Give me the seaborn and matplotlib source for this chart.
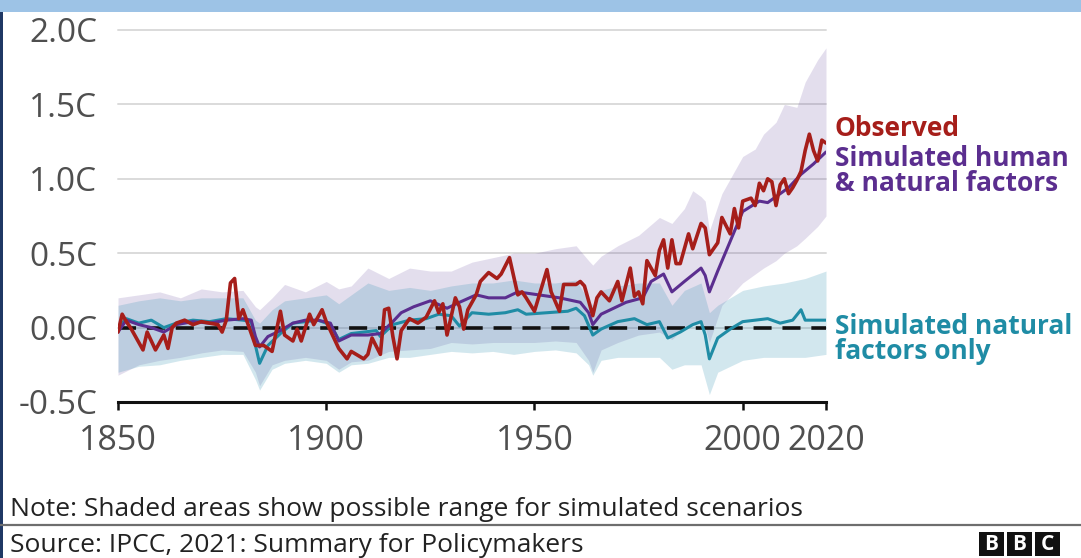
import matplotlib
matplotlib.use("Agg")
import matplotlib.pyplot as plt
import seaborn as sns
import pandas as pd
from matplotlib.patches import Rectangle
from matplotlib.lines import Line2D

# ---------------- data ----------------
obs_years = [1850, 1851, 1852, 1853, 1854, 1856, 1857, 1859, 1861, 1862, 1863, 1864, 1866, 1868,
             1870, 1872, 1874, 1875, 1876, 1877, 1878, 1879, 1880, 1881, 1883, 1885, 1887, 1889,
             1890, 1892, 1893, 1894, 1896, 1897, 1899, 1900, 1903, 1905, 1906, 1909, 1910, 1911,
             1913, 1914, 1915, 1916, 1917, 1918, 1920, 1922, 1924, 1926, 1927, 1928, 1929, 1931,
             1932, 1933, 1934, 1936, 1937, 1939, 1941, 1942, 1944, 1946, 1947, 1948, 1950, 1953,
             1954, 1956, 1957, 1958, 1960, 1961, 1962, 1964, 1965, 1966, 1968, 1970, 1971, 1973,
             1974, 1975, 1976, 1977, 1979, 1980, 1981, 1982, 1983, 1984, 1985, 1987, 1988, 1990,
             1991, 1992, 1994, 1995, 1997, 1998, 1999, 2000, 2002, 2003, 2004, 2005, 2006, 2007,
             2008, 2009, 2010, 2011, 2012, 2013, 2014, 2015, 2016, 2017, 2018, 2019, 2020]
obs_values = [-0.03, 0.09, 0.04, 0.00, -0.05, -0.15, -0.03, -0.15, -0.05, -0.14, 0.00, 0.03, 0.05, 0.02,
              0.04, 0.03, 0.02, -0.03, 0.05, 0.30, 0.33, 0.06, 0.12, 0.04, -0.12, -0.12, -0.16, 0.11,
              -0.05, -0.09, -0.01, -0.09, 0.09, 0.02, 0.12, 0.04, -0.14, -0.21, -0.16, -0.21, -0.18, -0.07,
              -0.18, 0.12, 0.13, -0.06, -0.21, -0.02, 0.06, 0.03, 0.07, 0.18, 0.10, 0.16, -0.05, 0.20,
              0.14, -0.01, 0.12, 0.22, 0.31, 0.37, 0.33, 0.36, 0.47, 0.22, 0.24, 0.20, 0.11, 0.39,
              0.24, 0.11, 0.29, 0.29, 0.29, 0.31, 0.28, 0.08, 0.20, 0.24, 0.18, 0.31, 0.18, 0.40,
              0.21, 0.24, 0.16, 0.45, 0.35, 0.52, 0.59, 0.40, 0.59, 0.43, 0.43, 0.63, 0.53, 0.70,
              0.67, 0.49, 0.57, 0.74, 0.63, 0.80, 0.67, 0.85, 0.87, 0.82, 0.97, 0.92, 1.00, 0.98,
              0.82, 0.96, 1.00, 0.90, 0.94, 0.99, 1.05, 1.19, 1.30, 1.19, 1.12, 1.26, 1.24]

hum_years = [1850, 1852, 1855, 1858, 1861, 1864, 1868, 1872, 1876, 1880, 1882, 1883, 1884, 1886, 1889,
             1892, 1895, 1898, 1901, 1903, 1906, 1910, 1913, 1916, 1918, 1921, 1925, 1929, 1932, 1936,
             1939, 1943, 1946, 1951, 1956, 1961, 1963, 1964, 1966, 1969, 1972, 1976, 1978, 1981, 1983,
             1986, 1990, 1991, 1992, 1994, 1997, 2000, 2004, 2006, 2009, 2011, 2014, 2017, 2020]
hum_values = [-0.03, 0.05, 0.02, 0.00, -0.03, 0.02, 0.04, 0.03, 0.05, 0.06, 0.05, -0.06, -0.13, -0.06, -0.02,
              0.03, 0.05, 0.05, 0.03, -0.09, -0.05, -0.05, -0.04, 0.04, 0.10, 0.14, 0.18, 0.13, 0.17, 0.22,
              0.20, 0.20, 0.24, 0.22, 0.20, 0.17, 0.10, 0.02, 0.09, 0.13, 0.17, 0.20, 0.31, 0.36, 0.24,
              0.31, 0.40, 0.35, 0.24, 0.38, 0.58, 0.78, 0.85, 0.84, 0.90, 0.94, 1.03, 1.10, 1.18]

nat_years = [1850, 1852, 1855, 1858, 1861, 1864, 1868, 1872, 1876, 1880, 1882, 1883, 1884, 1886, 1889,
             1892, 1895, 1898, 1901, 1903, 1906, 1909, 1912, 1913, 1916, 1920, 1924, 1927, 1930, 1932,
             1935, 1939, 1943, 1946, 1948, 1953, 1958, 1960, 1962, 1964, 1966, 1970, 1974, 1977, 1980,
             1982, 1985, 1988, 1990, 1991, 1992, 1994, 1997, 2000, 2003, 2006, 2009, 2012, 2014, 2015,
             2018, 2020]
nat_values = [0.00, 0.06, 0.03, 0.05, 0.00, 0.03, 0.05, 0.04, 0.06, 0.05, 0.04, -0.12, -0.24, -0.12, -0.04,
              0.03, 0.04, 0.05, 0.02, -0.08, -0.04, -0.03, -0.02, -0.06, 0.02, 0.05, 0.06, 0.09, 0.08, 0.01,
              0.10, 0.09, 0.10, 0.12, 0.09, 0.10, 0.11, 0.13, 0.08, -0.05, -0.01, 0.04, 0.06, 0.02, 0.04,
              -0.07, -0.03, 0.02, 0.04, -0.05, -0.21, -0.07, -0.01, 0.04, 0.05, 0.06, 0.03, 0.05, 0.12, 0.05,
              0.05, 0.05]

hum_band_years = [1850, 1855, 1860, 1865, 1870, 1875, 1880, 1883, 1884, 1887, 1890, 1895, 1900, 1903,
                  1906, 1910, 1915, 1920, 1925, 1930, 1935, 1940, 1945, 1950, 1955, 1960, 1963, 1964,
                  1966, 1970, 1975, 1980, 1983, 1986, 1988, 1990, 1991, 1992, 1995, 2000, 2003, 2005,
                  2008, 2010, 2013, 2015, 2018, 2020]
hum_band_upper = [0.20, 0.22, 0.24, 0.20, 0.26, 0.24, 0.25, 0.14, 0.12, 0.20, 0.29, 0.24, 0.31, 0.26,
                  0.28, 0.40, 0.33, 0.40, 0.38, 0.38, 0.44, 0.47, 0.50, 0.50, 0.53, 0.55, 0.45, 0.42,
                  0.48, 0.55, 0.62, 0.74, 0.70, 0.80, 0.92, 0.88, 0.85, 0.65, 0.90, 1.15, 1.20, 1.30,
                  1.38, 1.50, 1.48, 1.65, 1.80, 1.88]
hum_band_lower = [-0.32, -0.25, -0.22, -0.20, -0.17, -0.15, -0.16, -0.30, -0.39, -0.25, -0.22, -0.20, -0.22, -0.28,
                  -0.23, -0.22, -0.16, -0.15, -0.14, -0.10, -0.11, -0.10, -0.10, -0.10, -0.09, -0.10, -0.22, -0.30,
                  -0.15, -0.10, -0.05, -0.03, -0.08, 0.00, 0.03, 0.05, 0.00, -0.10, 0.15, 0.30, 0.36, 0.40,
                  0.45, 0.50, 0.55, 0.60, 0.68, 0.75]

nat_band_years = [1850, 1855, 1860, 1865, 1870, 1875, 1880, 1883, 1884, 1887, 1890, 1895, 1900, 1903,
                  1906, 1910, 1915, 1920, 1925, 1930, 1935, 1940, 1945, 1950, 1955, 1960, 1963, 1964,
                  1966, 1970, 1975, 1980, 1983, 1986, 1990, 1992, 1994, 2000, 2005, 2010, 2015, 2020]
nat_band_upper = [0.15, 0.18, 0.20, 0.18, 0.20, 0.20, 0.20, 0.05, 0.03, 0.12, 0.18, 0.20, 0.22, 0.16,
                  0.22, 0.30, 0.25, 0.27, 0.25, 0.28, 0.30, 0.30, 0.32, 0.30, 0.30, 0.32, 0.18, 0.15,
                  0.25, 0.28, 0.30, 0.30, 0.15, 0.25, 0.30, 0.10, 0.15, 0.25, 0.28, 0.30, 0.33, 0.38]
nat_band_lower = [-0.30, -0.26, -0.25, -0.22, -0.20, -0.18, -0.18, -0.35, -0.42, -0.28, -0.24, -0.22, -0.24, -0.30,
                  -0.25, -0.24, -0.20, -0.20, -0.18, -0.16, -0.17, -0.16, -0.18, -0.16, -0.15, -0.17, -0.25, -0.32,
                  -0.22, -0.20, -0.20, -0.20, -0.28, -0.25, -0.25, -0.45, -0.30, -0.22, -0.20, -0.20, -0.20, -0.18]

x_ticks = [1850, 1900, 1950, 2000, 2020]
y_ticks = [-0.5, 0.0, 0.5, 1.0, 1.5, 2.0]
y_tick_labels = ["-0.5C", "0.0C", "0.5C", "1.0C", "1.5C", "2.0C"]
series_labels = ["Observed", "Simulated human\n& natural factors", "Simulated natural\nfactors only"]
note_text = "Note: Shaded areas show possible range for simulated scenarios"
source_text = "Source: IPCC, 2021: Summary for Policymakers"

# ---------------- style ----------------
C_OBS = "#A61E1A"
C_HUM = "#5B2E8F"
C_NAT = "#1F8CA5"
C_HUM_BAND = "#5E3C99"
C_NAT_BAND = "#2E8FB0"
C_TICK = "#4F4F4F"

sns.set_theme(style="white")
plt.rcParams["font.family"] = ["Open Sans", "DejaVu Sans"]

fig = plt.figure(figsize=(10.81, 5.58), dpi=100)
ax = fig.add_axes([118 / 1081, 1 - 402 / 558, 708 / 1081, 372 / 558])

# shaded ranges
ax.fill_between(hum_band_years, hum_band_lower, hum_band_upper, color=C_HUM_BAND, alpha=0.17, lw=0, zorder=1)
ax.fill_between(nat_band_years, nat_band_lower, nat_band_upper, color=C_NAT_BAND, alpha=0.21, lw=0, zorder=1)

# zero line dashed
ax.axhline(0, color="#111111", lw=2.6, dashes=(5, 3), zorder=3)

df_nat = pd.DataFrame({"year": nat_years, "temp": nat_values})
df_hum = pd.DataFrame({"year": hum_years, "temp": hum_values})
df_obs = pd.DataFrame({"year": obs_years, "temp": obs_values})

sns.lineplot(data=df_nat, x="year", y="temp", color=C_NAT, lw=2.2, ax=ax, zorder=4)
sns.lineplot(data=df_hum, x="year", y="temp", color=C_HUM, lw=2.2, ax=ax, zorder=5)
sns.lineplot(data=df_obs, x="year", y="temp", color=C_OBS, lw=2.6, ax=ax, zorder=6)

ax.set_xlim(1850, 2020)
ax.set_ylim(-0.5, 2.0)
ax.set_xlabel("")
ax.set_ylabel("")

ax.set_yticks(y_ticks)
ax.set_yticklabels(y_tick_labels)
ax.set_xticks(x_ticks)
ax.set_xticklabels([str(t) for t in x_ticks])

ax.tick_params(axis="y", length=0, pad=15, labelsize=24, labelcolor=C_TICK)
ax.tick_params(axis="x", length=6, width=1.8, color="#111111", direction="out", pad=10,
               labelsize=24.5, labelcolor=C_TICK, bottom=True)

ax.grid(axis="y", color="#DADADA", lw=1.4, zorder=0)
for gl in ax.get_ygridlines():
    gl.set_clip_on(False)
ax.set_axisbelow(True)

for s in ["top", "right", "left"]:
    ax.spines[s].set_visible(False)
ax.spines["bottom"].set_color("#111111")
ax.spines["bottom"].set_linewidth(2.2)
ax.spines["bottom"].set_zorder(7)

# right-hand labels
fig.text(835 / 1081, 1 - 129 / 558, series_labels[0], color=C_OBS, fontsize=19, fontweight="bold",
         va="center", ha="left")
fig.text(835 / 1081, 1 - 171 / 558, series_labels[1], color=C_HUM, fontsize=19, fontweight="bold",
         va="center", ha="left", linespacing=0.95)
fig.text(835 / 1081, 1 - 339 / 558, series_labels[2], color=C_NAT, fontsize=19, fontweight="bold",
         va="center", ha="left", linespacing=0.95)

# note / source
fig.text(10 / 1081, 1 - 509 / 558, note_text, color="#222222", fontsize=19, va="center", ha="left")
fig.text(10 / 1081, 1 - 545 / 558, source_text, color="#222222", fontsize=19, va="center", ha="left")
fig.add_artist(Line2D([0, 1], [1 - 525 / 558, 1 - 525 / 558], transform=fig.transFigure,
                      color="#6E6E6E", lw=1.6))

# frame decorations
fig.add_artist(Rectangle((0, 1 - 12 / 558), 1, 12 / 558, transform=fig.transFigure,
                         facecolor="#9DC3E6", edgecolor="none"))
fig.add_artist(Rectangle((0, 0), 3 / 1081, 1 - 12 / 558, transform=fig.transFigure,
                         facecolor="#1F3864", edgecolor="none"))

# BBC blocks
for i, letter in enumerate("BBC"):
    x0 = (979 + i * 28) / 1081
    fig.add_artist(Rectangle((x0, 2 / 558), 25 / 1081, 24 / 558, transform=fig.transFigure,
                             facecolor="#111111", edgecolor="none"))
    fig.text(x0 + 12.5 / 1081, 14 / 558, letter, color="white", fontsize=15, fontweight="bold",
             ha="center", va="center")

fig.savefig("out.png", dpi=100)
